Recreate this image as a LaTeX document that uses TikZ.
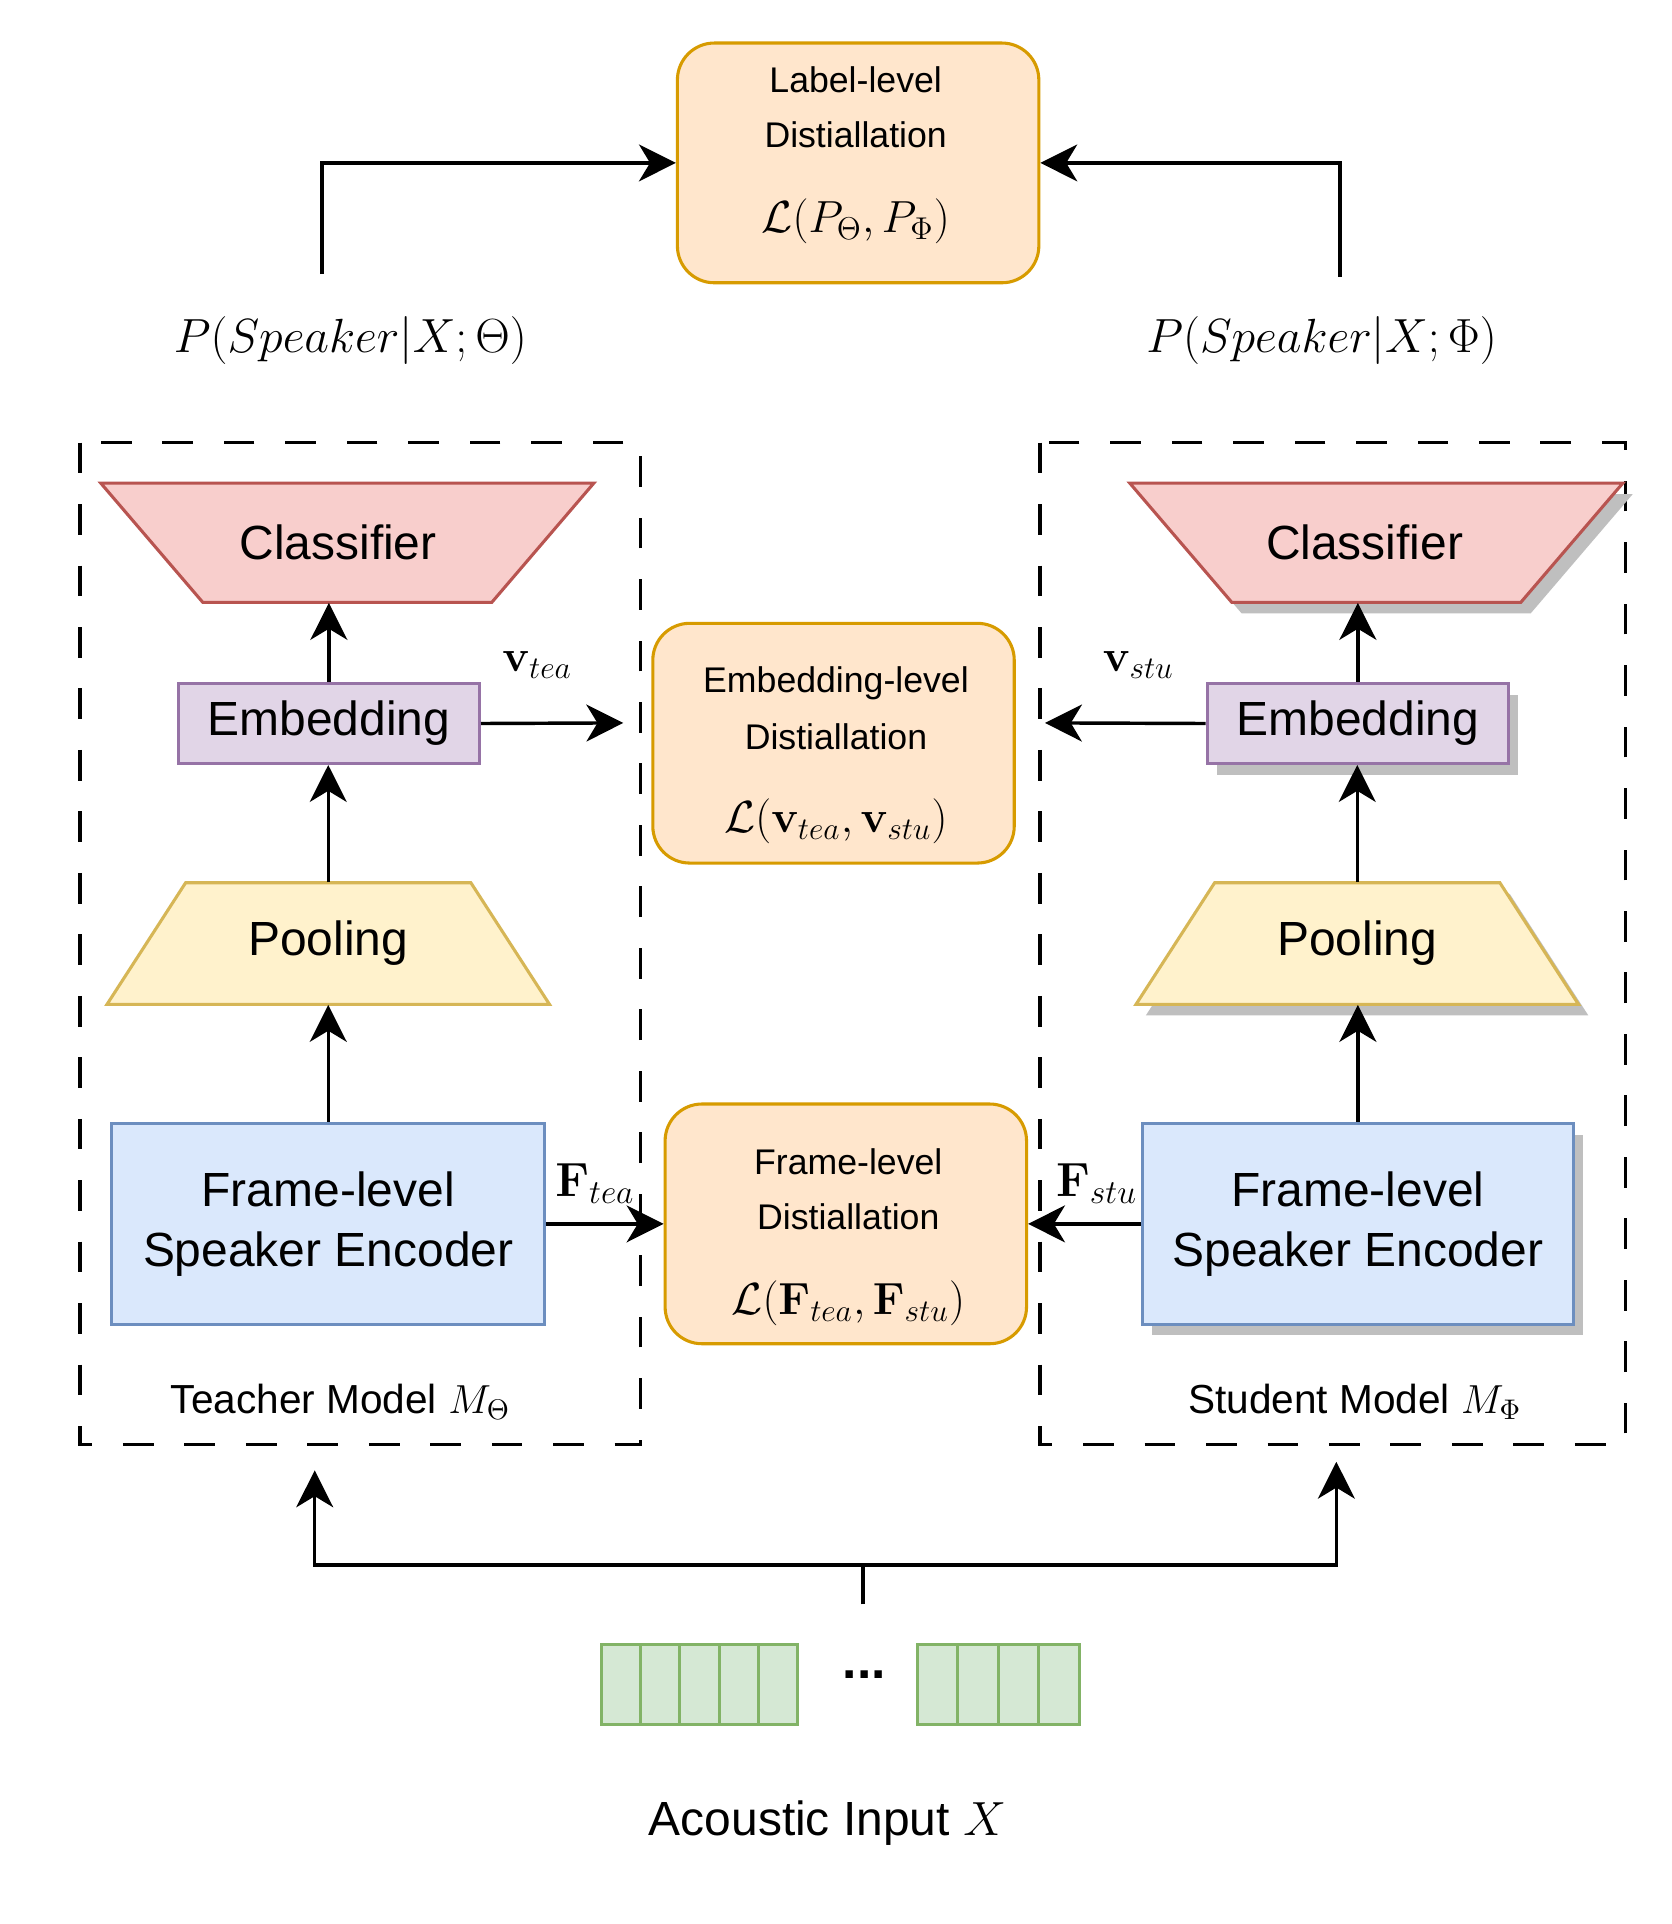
\RequirePackage{fix-cm}
\documentclass[tikz,border=0pt]{standalone}
\usepackage{amsmath}
\usepackage[no-math]{fontspec}
\setmainfont{Liberation Sans}
\usetikzlibrary{arrows.meta}
\definecolor{orf}{HTML}{FFE6CC}\definecolor{ord}{HTML}{D79B00}
\definecolor{clf}{HTML}{F8CECC}\definecolor{cld}{HTML}{B85450}
\definecolor{emf}{HTML}{E1D5E7}\definecolor{emd}{HTML}{9673A6}
\definecolor{pof}{HTML}{FFF2CC}\definecolor{pod}{HTML}{D6B656}
\definecolor{enf}{HTML}{DAE8FC}\definecolor{end}{HTML}{6C8EBF}
\definecolor{grf}{HTML}{D5E8D4}\definecolor{grd}{HTML}{82B366}
\definecolor{shd}{HTML}{BFBFBF}
\tikzset{
  brd/.style={line width=1.25pt},
  clsS/.style={brd, draw=cld, fill=clf},
  embS/.style={brd, draw=emd, fill=emf},
  poolS/.style={brd, draw=pod, fill=pof},
  encS/.style={brd, draw=end, fill=enf},
  orS/.style={brd, draw=ord, fill=orf, rounded corners=15pt},
  frS/.style={brd, draw=grd, fill=grf, inner sep=0pt},
  shadS/.style={fill=shd, draw=none},
  arr/.style={line width=1.4pt, -{Stealth[length=15pt,width=15pt,inset=4.5pt]}},
  ln/.style={line width=1.4pt},
  dbox/.style={line width=1.4pt, dash pattern=on 12.5pt off 12.5pt},
  big/.style={font=\fontsize{19.5}{24.5}\selectfont, inner sep=0pt},
  mid/.style={font=\fontsize{14.5}{17}\selectfont, inner sep=0pt},
  mth/.style={font=\fontsize{18.3}{21}\selectfont, inner sep=0pt},
  mthF/.style={font=\fontsize{19.5}{22}\selectfont, inner sep=0pt},
  mthL/.style={font=\fontsize{19.5}{23}\selectfont, inner sep=0pt},
  sml/.style={font=\fontsize{16.5}{19}\selectfont, inner sep=0pt},
}
\begin{document}
\begin{tikzpicture}[x=0.5pt,y=-0.5pt]
\useasboundingbox[fill=white] (0,0) rectangle (1360,1565);

% dashed model frames
\draw[dbox] (65,360) rectangle (521,1175);
\draw[dbox] (846,360) rectangle (1322,1175);

% ---------- label-level distillation
\node[orS, minimum width=147pt, minimum height=97.5pt] (lab) at (698,132.5) {};
\node[mid] (lab1) at (696,65) {Label-level};
\node[mid] (lab2) at (696,110) {Distiallation};
\node[mth] (lab3) at (696,180) {$\mathcal{L}(P_{\Theta},P_{\Phi})$};

\node[mthL] (pt) at (285,277) {$P(Speaker|X;\Theta)$};
\node[mthL] (ps) at (1075,277) {$P(Speaker|X;\Phi)$};
\coordinate (pta) at (262,223);
\coordinate (psa) at (1090,225);
\draw[arr] (pta) |- (lab.west);
\draw[arr] (psa) |- (lab.east);

% ---------- teacher
\draw[clsS] (82,393) -- (483,393) -- (400,490) -- (165,490) -- cycle;
\node[big, minimum height=48.5pt] (cls1) at (275,441.5) {Classifier};
\node[embS, big, minimum width=122.5pt, minimum height=32.5pt] (emb1) at (267.5,588.5) {Embedding};
\draw[poolS] (151,718) -- (383,718) -- (447,817) -- (87,817) -- cycle;
\node[big, minimum height=49.5pt] (pool1) at (267,767.5) {Pooling};
\node[encS, big, align=center, minimum width=176pt, minimum height=81.5pt] (enc1) at (267,995.5) {Frame-level\\Speaker Encoder};
\node[sml] (tm) at (277,1140) {Teacher Model $M_{\Theta}$};

\draw[arr] (emb1.north) -- (emb1.north |- cls1.south);
\draw[arr] (pool1.north) -- (pool1.north |- emb1.south);
\draw[arr] (enc1.north) -- (enc1.north |- pool1.south);

% ---------- student (with shadows)
\fill[shadS] (927,402) -- (1328,402) -- (1245,499) -- (1010,499) -- cycle;
\draw[clsS] (919,393) -- (1320,393) -- (1237,490) -- (1002,490) -- cycle;
\node[big, minimum height=48.5pt] (cls2) at (1110,441.5) {Classifier};
\fill[shadS] (990,565) rectangle (1235,630);
\node[embS, big, minimum width=122.5pt, minimum height=32.5pt] (emb2) at (1104.5,588.5) {Embedding};
\fill[shadS] (996,727) -- (1228,727) -- (1292,826) -- (932,826) -- cycle;
\draw[poolS] (988,718) -- (1220,718) -- (1284,817) -- (924,817) -- cycle;
\node[big, minimum height=49.5pt] (pool2) at (1104,767.5) {Pooling};
\fill[shadS] (937,923) rectangle (1288,1086);
\node[encS, big, align=center, minimum width=175.5pt, minimum height=81.5pt] (enc2) at (1104.5,995.5) {Frame-level\\Speaker Encoder};
\node[sml] (sm) at (1102,1140) {Student Model $M_{\Phi}$};

\draw[arr] (emb2.north) -- (emb2.north |- cls2.south);
\draw[arr] (pool2.north) -- (pool2.north |- emb2.south);
\draw[arr] (enc2.north) -- (enc2.north |- pool2.south);

% ---------- embedding-level distillation
\node[orS, minimum width=147pt, minimum height=97.5pt] (edb) at (678,604.5) {};
\node[mid] (edb1) at (680,556) {Embedding-level};
\node[mid] (edb2) at (680,599) {Distiallation};
\node[mth] (edb3) at (680,668) {$\mathcal{L}(\mathbf{v}_{tea},\mathbf{v}_{stu})$};
\coordinate (vt) at (507,588);
\coordinate (vs) at (850,588);
\draw[arr] (emb1.east) -- (vt);
\draw[arr] (emb2.west) -- (vs);
\node[mth] (vtl) at (437,541) {$\mathbf{v}_{tea}$};
\node[mth] (vsl) at (926,541) {$\mathbf{v}_{stu}$};

% ---------- frame-level distillation
\node[orS, minimum width=147pt, minimum height=97.5pt] (fdb) at (688,995.5) {};
\node[mid] (fdb1) at (690,945) {Frame-level};
\node[mid] (fdb2) at (690,990) {Distiallation};
\node[mth] (fdb3) at (690,1060) {$\mathcal{L}(\mathbf{F}_{tea},\mathbf{F}_{stu})$};
\draw[arr] (enc1.east) -- (enc1.east -| fdb.west);
\draw[arr] (enc2.west) -- (enc2.west -| fdb.east);
\node[mthF] (ftl) at (484,963) {$\mathbf{F}_{tea}$};
\node[mthF] (fsl) at (892,963) {$\mathbf{F}_{stu}$};

% ---------- acoustic input
\coordinate (stem) at (702,1305);
\coordinate (junc) at (702,1273);
\coordinate (tin) at (256,1196);
\coordinate (sin) at (1087,1189);
\draw[ln] (stem) -- (junc);
\draw[arr] (junc) -| (tin);
\draw[arr] (junc) -| (sin);

\foreach \i in {0,...,4}
  \node[frS, minimum width=16pt, minimum height=32.5pt] (fa\i) at (505+32*\i,1370.5) {};
\foreach \i in {0,...,3}
  \node[frS, minimum width=16.5pt, minimum height=32.5pt] (fb\i) at (762.5+33*\i,1370.5) {};
\node[font=\fontsize{21}{24}\selectfont\bfseries, inner sep=0pt] (dots) at (703,1362) {...};
\node[big] (ai) at (673,1483) {Acoustic Input $X$};
\end{tikzpicture}
\end{document}
